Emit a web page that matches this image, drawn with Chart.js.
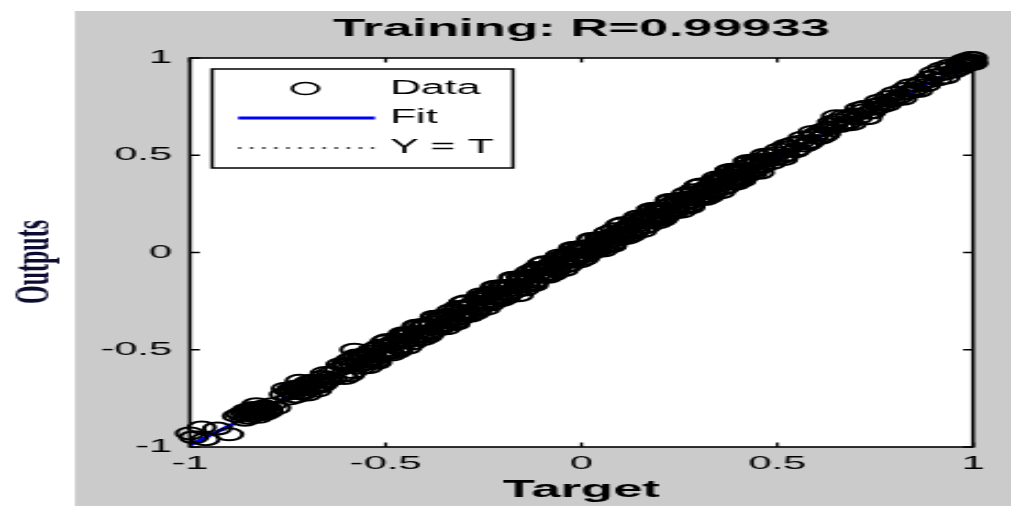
<!DOCTYPE html>
<html>
<head>
<meta charset="utf-8">
<title>Training regression</title>
<script src="https://cdn.jsdelivr.net/npm/chart.js@4.4.1/dist/chart.umd.min.js"></script>
<style>
  html, body { margin: 0; padding: 0; background: #ffffff; overflow: hidden; }
  /* the figure is laid out on a narrow canvas and widened to the window */
  #wrap { width: 460px; height: 506px; transform: scale(2.19783, 1); transform-origin: 0 0; }
  canvas { display: block; }
</style>
</head>
<body>
<div id="wrap"><canvas id="chart" width="460" height="506"></canvas></div>
<script>
// Network targets and trained outputs (training set)
const targets = [
  -1.00, -0.99, -0.97, -0.93, -0.90, -0.96,
  -0.88, -0.86, -0.85, -0.84, -0.83, -0.82, -0.81, -0.80, -0.79, -0.83, -0.86, -0.78,
  -0.87, -0.845, -0.825, -0.805, -0.835, -0.815,
  -0.845, -0.83, -0.815, -0.855, -0.80, -0.825, -0.84, -0.81,
  -0.76, -0.74, -0.73, -0.72, -0.71, -0.70, -0.69, -0.68, -0.67, -0.66, -0.65, -0.64, -0.72, -0.70,
  -0.755, -0.735, -0.715, -0.695, -0.675, -0.655, -0.635, -0.745,
  -0.745, -0.725, -0.705, -0.685, -0.665, -0.645, -0.715, -0.69, -0.66, -0.73,
  -0.62, -0.60, -0.59, -0.58, -0.57, -0.56, -0.55, -0.54, -0.53, -0.52, -0.51, -0.50,
  -0.49, -0.48, -0.47, -0.46, -0.45, -0.44, -0.43, -0.42, -0.41, -0.40,
  -0.39, -0.38, -0.37, -0.36, -0.35, -0.34, -0.33, -0.32, -0.31, -0.30,
  -0.29, -0.28, -0.27, -0.26, -0.25, -0.24, -0.23, -0.22, -0.21, -0.20,
  -0.19, -0.18, -0.17, -0.16, -0.15, -0.14, -0.13, -0.12, -0.11, -0.10,
  -0.09, -0.08, -0.07, -0.06, -0.05, -0.04, -0.03, -0.02, -0.01, 0.00,
  0.01, 0.02, 0.03, 0.04, 0.05, 0.06, 0.07, 0.08, 0.09, 0.10,
  0.11, 0.12, 0.13, 0.14, 0.15, 0.16, 0.17, 0.18, 0.19, 0.20,
  0.21, 0.22, 0.23, 0.24, 0.25, 0.26, 0.27, 0.28, 0.29, 0.30,
  0.31, 0.32, 0.33, 0.34, 0.35, 0.36, 0.37, 0.38, 0.39, 0.40,
  0.41, 0.42, 0.43, 0.44, 0.45, 0.46, 0.47,
  -0.45, -0.30, -0.12, 0.05, 0.22, 0.38,
  -0.615, -0.605, -0.595, -0.585, -0.575, -0.565, -0.555, -0.545, -0.535, -0.525,
  -0.515, -0.505, -0.495, -0.485, -0.475, -0.465, -0.455, -0.445, -0.435, -0.425,
  -0.415, -0.405, -0.395, -0.385, -0.375, -0.365, -0.355, -0.345, -0.335, -0.325,
  -0.315, -0.305, -0.295, -0.285, -0.275, -0.265, -0.255, -0.245, -0.235, -0.225,
  -0.215, -0.205, -0.195, -0.185, -0.175, -0.165, -0.155, -0.145, -0.135, -0.125,
  -0.115, -0.105, -0.095, -0.085, -0.075, -0.065, -0.055, -0.045, -0.035, -0.025,
  -0.015, -0.005, 0.005, 0.015, 0.025, 0.035, 0.045, 0.055, 0.065, 0.075,
  0.085, 0.095, 0.105, 0.115, 0.125, 0.135, 0.145, 0.155, 0.165, 0.175,
  0.185, 0.195, 0.205, 0.215, 0.225, 0.235, 0.245, 0.255, 0.265, 0.275,
  0.285, 0.295, 0.305, 0.315, 0.325, 0.335, 0.345, 0.355, 0.365, 0.375,
  0.385, 0.395, 0.405, 0.415, 0.425, 0.435, 0.445, 0.455, 0.465,
  -0.612, -0.602, -0.592, -0.582, -0.572, -0.562, -0.552, -0.542, -0.532, -0.522,
  -0.512, -0.502, -0.492, -0.482, -0.472, -0.462, -0.452, -0.442, -0.432, -0.422,
  -0.412, -0.402, -0.392, -0.382, -0.372, -0.362, -0.352, -0.342, -0.332, -0.322,
  -0.312, -0.302, -0.292, -0.282, -0.272, -0.262, -0.252, -0.242, -0.232, -0.222,
  -0.212, -0.202, -0.192, -0.182, -0.172, -0.162, -0.152, -0.142, -0.132, -0.122,
  -0.112, -0.102, -0.092, -0.082, -0.072, -0.062, -0.052, -0.042, -0.032, -0.022,
  -0.012, -0.002, 0.008, 0.018, 0.028, 0.038, 0.048, 0.058, 0.068, 0.078,
  0.088, 0.098, 0.108, 0.118, 0.128, 0.138, 0.148, 0.158, 0.168, 0.178,
  0.188, 0.198, 0.208, 0.218, 0.228, 0.238, 0.248, 0.258, 0.268, 0.278,
  0.288, 0.298, 0.308, 0.318, 0.328, 0.338, 0.348, 0.358, 0.368, 0.378,
  0.388, 0.398, 0.408, 0.418, 0.428, 0.438, 0.448, 0.458, 0.468,
  0.49, 0.50, 0.52, 0.53, 0.55, 0.56, 0.58, 0.60, 0.61, 0.63,
  0.65, 0.66, 0.68, 0.70, 0.72, 0.73, 0.75, 0.77, 0.79, 0.81,
  0.83, 0.85, 0.87, 0.88, 0.90, 0.92, 0.93, 0.95, 0.97, 0.99,
  1.00, 1.00, 0.99,
  0.48, 0.51, 0.54, 0.57, 0.59, 0.62, 0.64, 0.67, 0.69, 0.71,
  0.74, 0.76, 0.78, 0.80, 0.82, 0.84, 0.86, 0.89, 0.91, 0.94,
  0.96, 0.98, 1.00, 0.98,
  0.485, 0.505, 0.515, 0.525, 0.545, 0.565, 0.585, 0.595, 0.615, 0.625,
  0.645, 0.655, 0.675, 0.685, 0.705, 0.725, 0.735, 0.755, 0.765, 0.785,
  0.805, 0.825, 0.845, 0.865, 0.885, 0.905, 0.925, 0.945, 0.965, 0.985,
  0.995, 0.975
];
const outputs = [
  -0.93, -0.95, -0.90, -0.905, -0.935, -0.96,
  -0.84, -0.82, -0.85, -0.80, -0.83, -0.81, -0.79, -0.82, -0.78, -0.78, -0.86, -0.80,
  -0.83, -0.815, -0.845, -0.795, -0.805, -0.825,
  -0.83, -0.815, -0.80, -0.81, -0.81, -0.825, -0.84, -0.83,
  -0.73, -0.70, -0.74, -0.69, -0.72, -0.67, -0.70, -0.66, -0.69, -0.64, -0.66, -0.62, -0.66, -0.73,
  -0.70, -0.72, -0.70, -0.68, -0.71, -0.62, -0.65, -0.75,
  -0.715, -0.705, -0.69, -0.695, -0.665, -0.645, -0.725, -0.66, -0.68, -0.69,
  -0.60, -0.58, -0.55, -0.50, -0.56, -0.53, -0.57, -0.51, -0.55, -0.49, -0.53, -0.48,
  -0.51, -0.46, -0.49, -0.45, -0.46, -0.42, -0.45, -0.41, -0.43, -0.38,
  -0.41, -0.36, -0.39, -0.33, -0.37, -0.32, -0.35, -0.30, -0.34, -0.28,
  -0.31, -0.27, -0.29, -0.24, -0.27, -0.22, -0.25, -0.20, -0.24, -0.18,
  -0.21, -0.17, -0.20, -0.22, -0.14, -0.17, -0.12, -0.15, -0.09, -0.12,
  -0.08, -0.11, -0.05, -0.08, -0.04, -0.07, -0.01, -0.04, 0.01, -0.02,
  0.03, 0.00, 0.04, 0.01, 0.06, 0.03, 0.08, 0.06, 0.10, 0.07,
  0.12, 0.10, 0.15, 0.12, 0.16, 0.13, 0.18, 0.16, 0.21, 0.17,
  0.22, 0.20, 0.25, 0.22, 0.26, 0.23, 0.28, 0.26, 0.31, 0.28,
  0.32, 0.29, 0.34, 0.32, 0.37, 0.33, 0.38, 0.36, 0.41, 0.37,
  0.42, 0.40, 0.45, 0.42, 0.46, 0.44, 0.47,
  -0.42, -0.32, -0.09, 0.02, 0.24, 0.40,
  -0.575, -0.645, -0.575, -0.615, -0.53, -0.58, -0.525, -0.59, -0.525, -0.56,
  -0.48, -0.525, -0.45, -0.525, -0.46, -0.495, -0.415, -0.49, -0.41, -0.435,
  -0.375, -0.445, -0.375, -0.415, -0.33, -0.38, -0.325, -0.39, -0.325, -0.36,
  -0.28, -0.325, -0.25, -0.325, -0.26, -0.295, -0.215, -0.29, -0.21, -0.235,
  -0.175, -0.245, -0.175, -0.215, -0.13, -0.18, -0.125, -0.19, -0.125, -0.16,
  -0.08, -0.125, -0.05, -0.125, -0.06, -0.095, -0.015, -0.09, -0.01, -0.035,
  0.025, -0.045, 0.025, -0.015, 0.07, 0.02, 0.075, 0.01, 0.075, 0.04,
  0.12, 0.075, 0.15, 0.075, 0.14, 0.105, 0.185, 0.11, 0.19, 0.165,
  0.225, 0.155, 0.225, 0.185, 0.27, 0.22, 0.275, 0.21, 0.275, 0.24,
  0.32, 0.275, 0.35, 0.275, 0.34, 0.305, 0.385, 0.31, 0.39, 0.365,
  0.425, 0.355, 0.425, 0.385, 0.47, 0.42, 0.475, 0.41, 0.475,
  -0.632, -0.572, -0.632, -0.577, -0.532, -0.592, -0.532, -0.552, -0.497, -0.567,
  -0.512, -0.457, -0.517, -0.472, -0.512, -0.432, -0.457, -0.417, -0.467, -0.377,
  -0.432, -0.372, -0.432, -0.377, -0.332, -0.392, -0.332, -0.352, -0.297, -0.367,
  -0.312, -0.257, -0.317, -0.272, -0.312, -0.232, -0.257, -0.217, -0.267, -0.177,
  -0.232, -0.172, -0.232, -0.177, -0.132, -0.192, -0.132, -0.152, -0.097, -0.167,
  -0.112, -0.057, -0.117, -0.072, -0.112, -0.032, -0.057, -0.017, -0.067, 0.023,
  -0.032, 0.028, -0.032, 0.023, 0.068, 0.008, 0.068, 0.048, 0.103, 0.033,
  0.088, 0.143, 0.083, 0.128, 0.088, 0.168, 0.143, 0.183, 0.133, 0.223,
  0.168, 0.228, 0.168, 0.223, 0.268, 0.208, 0.268, 0.248, 0.303, 0.233,
  0.288, 0.343, 0.283, 0.328, 0.288, 0.368, 0.343, 0.383, 0.333, 0.423,
  0.368, 0.428, 0.368, 0.423, 0.468, 0.408, 0.468, 0.448, 0.503,
  0.48, 0.51, 0.50, 0.54, 0.53, 0.57, 0.56, 0.61, 0.59, 0.64,
  0.70, 0.65, 0.67, 0.71, 0.73, 0.69, 0.74, 0.77, 0.78, 0.80,
  0.82, 0.84, 0.875, 0.86, 0.925, 0.946, 0.90, 0.93, 0.95, 0.97,
  0.98, 0.97, 0.99,
  0.50, 0.49, 0.56, 0.55, 0.62, 0.60, 0.67, 0.70, 0.66, 0.74,
  0.72, 0.78, 0.76, 0.82, 0.79, 0.86, 0.83, 0.90, 0.89, 0.96,
  0.94, 0.99, 1.00, 0.96,
  0.46, 0.53, 0.48, 0.55, 0.52, 0.59, 0.57, 0.60, 0.63, 0.61,
  0.66, 0.68, 0.66, 0.70, 0.69, 0.75, 0.72, 0.76, 0.75, 0.80,
  0.79, 0.84, 0.83, 0.87, 0.88, 0.91, 0.92, 0.95, 0.97, 0.975,
  1.00, 0.985
];

// Linear fit Y = 0.985*T - 0.005 evaluated at the axis ends
const fitTargets = [-1, 1];
const fitOutputs = [-0.99, 0.98];

// Reference line Y = T
const identityTargets = [-1, 1];
const identityOutputs = [-1, 1];

// Axis ticks
const tickValues = [-1, -0.5, 0, 0.5, 1];
const tickLabels = ['-1', '-0.5', '0', '0.5', '1'];

const SANS = '"Liberation Sans", Arial, Helvetica, sans-serif';
const SERIF = '"Liberation Serif", "Times New Roman", serif';
const FIGURE_GRAY = '#cbcbcb';

const toPoints = (xs, ys) => xs.map((x, i) => ({ x: x, y: ys[i] }));

// Figure background, white axes, box with inward ticks, legend and y label
const figurePlugin = {
  id: 'figureFrame',
  beforeDraw(chart) {
    const { ctx, chartArea: a, width, height } = chart;
    ctx.save();
    ctx.fillStyle = '#ffffff';
    ctx.fillRect(0, 0, width, height);
    ctx.fillStyle = FIGURE_GRAY;
    ctx.fillRect(34.1, 11, width - 34.1, height - 11);
    ctx.fillStyle = '#ffffff';
    ctx.fillRect(a.left, a.top, a.right - a.left, a.bottom - a.top);
    ctx.restore();
  },
  afterDatasetsDraw(chart) {
    const { ctx, chartArea: a, scales } = chart;
    const tl = 4.5;
    ctx.save();
    ctx.strokeStyle = '#000000';
    ctx.lineWidth = 1.6;
    ctx.strokeRect(a.left, a.top, a.right - a.left, a.bottom - a.top);
    ctx.lineWidth = 1.3;
    ctx.beginPath();
    tickValues.forEach(v => {
      const px = scales.x.getPixelForValue(v);
      ctx.moveTo(px, a.bottom); ctx.lineTo(px, a.bottom - tl);
      ctx.moveTo(px, a.top); ctx.lineTo(px, a.top + tl);
      const py = scales.y.getPixelForValue(v);
      ctx.moveTo(a.left, py); ctx.lineTo(a.left + tl, py);
      ctx.moveTo(a.right, py); ctx.lineTo(a.right - tl, py);
    });
    ctx.stroke();

    // legend box
    const ds = chart.data.datasets;
    const L = { left: 96.5, top: 69, right: 233.4, bottom: 168 };
    ctx.fillStyle = '#ffffff';
    ctx.fillRect(L.left, L.top, L.right - L.left, L.bottom - L.top);
    ctx.lineWidth = 1.5;
    ctx.strokeStyle = '#000000';
    ctx.strokeRect(L.left, L.top, L.right - L.left, L.bottom - L.top);

    const rows = [88.5, 118, 148];
    const sx0 = 108.3, sx1 = 170.6, textX = 177.4;
    // marker sample
    ctx.beginPath();
    ctx.lineWidth = 1.6;
    ctx.arc((sx0 + sx1) / 2 - 0.5, rows[0], ds[0].pointRadius, 0, Math.PI * 2);
    ctx.stroke();
    // fit sample
    ctx.beginPath();
    ctx.strokeStyle = ds[1].borderColor;
    ctx.lineWidth = ds[1].borderWidth;
    ctx.moveTo(sx0, rows[1]); ctx.lineTo(sx1, rows[1]);
    ctx.stroke();
    // identity sample
    ctx.beginPath();
    ctx.strokeStyle = ds[2].borderColor;
    ctx.lineWidth = ds[2].borderWidth;
    ctx.setLineDash(ds[2].borderDash);
    ctx.moveTo(sx0, rows[2]); ctx.lineTo(sx1, rows[2]);
    ctx.stroke();
    ctx.setLineDash([]);

    ctx.fillStyle = '#000000';
    ctx.font = '19.5px ' + SANS;
    ctx.textAlign = 'left';
    ctx.textBaseline = 'middle';
    ds.forEach((d, i) => ctx.fillText(d.label, textX, rows[i]));

    // y axis label
    ctx.translate(16, 262);
    ctx.rotate(-Math.PI / 2);
    ctx.font = 'bold 24px ' + SERIF;
    ctx.fillStyle = '#0c0c30';
    ctx.textAlign = 'center';
    ctx.fillText('Outputs', 0, 0);
    ctx.restore();
  }
};

const axisTicks = (padding) => ({
  font: { family: SANS, size: 19 },
  color: '#000000',
  padding: padding,
  autoSkip: false,
  maxRotation: 0,
  callback: (value, index) => tickLabels[index]
});

new Chart(document.getElementById('chart'), {
  type: 'scatter',
  data: {
    datasets: [
      {
        label: 'Data',
        data: toPoints(targets, outputs),
        pointStyle: 'circle',
        pointRadius: 6,
        pointHoverRadius: 6,
        pointBorderWidth: 2,
        pointBorderColor: '#000000',
        pointBackgroundColor: 'rgba(0,0,0,0)',
        showLine: false,
        clip: false
      },
      {
        label: 'Fit',
        data: toPoints(fitTargets, fitOutputs),
        showLine: true,
        borderColor: '#0000ff',
        borderWidth: 2.8,
        pointRadius: 0,
        fill: false
      },
      {
        label: 'Y = T',
        data: toPoints(identityTargets, identityOutputs),
        showLine: true,
        borderColor: '#000000',
        borderWidth: 1.6,
        borderDash: [1.4, 4.1],
        pointRadius: 0,
        fill: false
      }
    ]
  },
  options: {
    responsive: false,
    maintainAspectRatio: false,
    animation: false,
    devicePixelRatio: 1,
    events: [],
    layout: { padding: { left: 0, right: 17.3, top: 0, bottom: 0 } },
    plugins: {
      legend: { display: false },
      tooltip: { enabled: false },
      title: {
        display: true,
        fullSize: false,
        text: 'Training: R=0.99933',
        color: '#000000',
        font: { family: SANS, size: 24, weight: 'bold', lineHeight: 1.2 },
        padding: { top: 14.6, bottom: 14.6 }
      }
    },
    scales: {
      x: {
        type: 'linear',
        position: 'bottom',
        min: -1,
        max: 1,
        afterBuildTicks: s => { s.ticks = tickValues.map(v => ({ value: v })); },
        afterFit: s => { s.height = 59; },
        ticks: axisTicks(5),
        grid: { display: false, drawTicks: false },
        border: { display: false },
        title: {
          display: true,
          text: 'Target',
          color: '#000000',
          font: { family: SANS, size: 24, weight: 'bold', lineHeight: 1.2 },
          padding: { top: 0, bottom: 1.6 }
        }
      },
      y: {
        type: 'linear',
        position: 'left',
        min: -1,
        max: 1,
        afterBuildTicks: s => { s.ticks = tickValues.map(v => ({ value: v })); },
        afterFit: s => { s.width = 86.4; },
        ticks: axisTicks(8),
        grid: { display: false, drawTicks: false },
        border: { display: false }
      }
    }
  },
  plugins: [figurePlugin]
});
</script>
</body>
</html>
